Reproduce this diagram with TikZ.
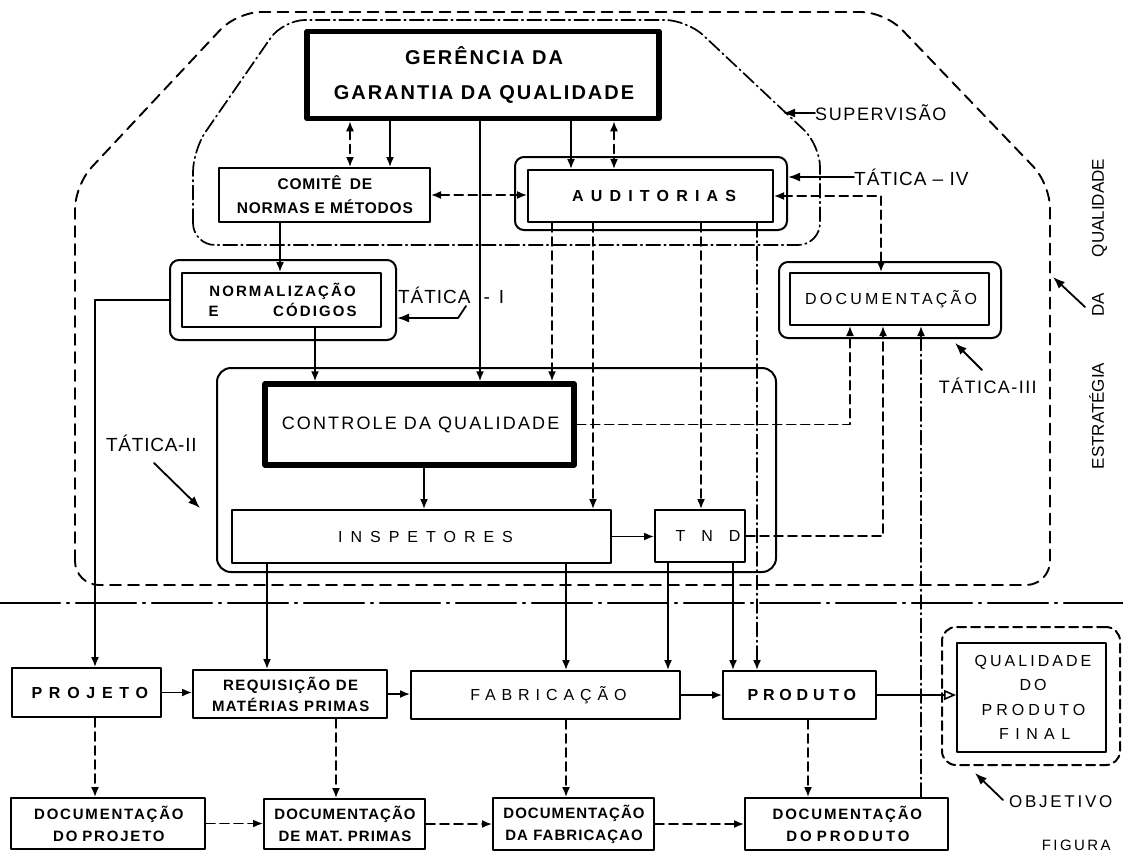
\documentclass[tikz,border=0pt]{standalone}
\usepackage{fontspec}
\setmainfont{Liberation Sans}
\usetikzlibrary{arrows.meta}

\newcommand{\fs}[2]{\fontsize{#1}{#2}\selectfont}
% tracked caps, trailing track removed
\newcommand{\trk}[2]{{\addfontfeature{LetterSpace=#1}#2\kern-\dimexpr #1em/100\relax}}

\begin{document}
\begin{tikzpicture}[x=1pt, y=-1pt, line cap=round, line join=round,
  box/.style={draw, line width=2pt, inner sep=0pt, align=center},
  heavybox/.style={box, line width=5.5pt},
  frame/.style={draw, line width=2pt, inner sep=0pt, rounded corners=9pt},
  flow/.style={line width=1.6pt, -{Latex[length=10pt,width=8pt]}},
  both/.style={line width=1.6pt, {Latex[length=10pt,width=8pt]}-{Latex[length=10pt,width=8pt]}},
  tipline/.style={line width=1.8pt, -{Latex[length=12pt,width=9pt]}},
  dsh/.style={dash pattern=on 9pt off 5pt},
  dshdot/.style={dash pattern=on 14pt off 4pt on 1.5pt off 4pt},
  lbl/.style={inner sep=0pt}]
  \useasboundingbox (0,0) rectangle (1123,854);

  % strategy boundary and supervision boundary
  \draw[line width=1.9pt, dash pattern=on 11pt off 7pt, rounded corners=24pt]
    (75,585) -- (75,185) -- (237,12) -- (885,12) -- (1050,184) -- (1050,585) -- cycle;
  \draw[line width=1.7pt, dshdot, rounded corners=22pt]
    (193,245) -- (193,150) -- (283,20) -- (687,20) -- (820,145) -- (820,245) -- cycle;
  % separator
  \draw[line width=2.4pt, dash pattern=on 60pt off 7pt on 2pt off 7pt] (0,603) -- (1123,603);

  % frames
  \node[frame, minimum width=272pt, minimum height=73pt] (audframe) at (651,193.5) {};
  \node[frame, minimum width=226pt, minimum height=80pt] (normframe) at (283,300) {};
  \node[frame, minimum width=222pt, minimum height=76pt] (docframe) at (890,300) {};
  \node[frame, rounded corners=14pt, minimum width=559pt, minimum height=204pt] (tatframe) at (496.5,470) {};
  \node[frame, dsh, rounded corners=14pt, minimum width=178pt, minimum height=138pt] (qualframe) at (1031,696) {};

  % boxes
  \node[heavybox, minimum width=352pt, minimum height=87pt, font=\fs{20}{35}\bfseries] (ger) at (483,75)
    {\trk{10}{GERÊNCIA DA}\\\trk{10}{GARANTIA DA QUALIDADE}};
  \node[box, minimum width=211pt, minimum height=54pt, font=\fs{15.5}{24}\bfseries] (comite) at (324.5,195)
    {\trk{5}{COMITÊ\hspace{8pt}DE}\\\trk{5}{NORMAS E MÉTODOS}};
  \node[box, minimum width=245pt, minimum height=52pt, font=\fs{16}{19}\bfseries] (aud) at (650.5,196) {\trk{45}{AUDITORIAS}};
  \node[box, minimum width=199pt, minimum height=54pt, font=\fs{15}{20}\bfseries] (normal) at (281.5,300)
    {\trk{14}{NORMALIZAÇÃO}\\\makebox[146pt]{E\hfill\trk{14}{CÓDIGOS}}};
  \node[box, minimum width=199pt, minimum height=52pt, font=\fs{16}{19}] (doc) at (889.5,299) {\trk{20}{DOCUMENTAÇÃO}};
  \node[heavybox, minimum width=309pt, minimum height=81pt, font=\fs{18}{21}] (ctrl) at (419.5,424.5)
    {\trk{12}{CONTROLE\hspace{7pt}DA\hspace{7pt}QUALIDADE}};
  \node[box, minimum width=379pt, minimum height=53pt, font=\fs{16}{19}] (insp) at (421.5,536.5) {\trk{50}{INSPETORES}};
  \node[box, minimum width=90pt, minimum height=52pt, font=\fs{16}{19}] (tnd) at (700,536) {\trk{100}{TND}};

  \node[box, minimum width=149pt, minimum height=49pt, font=\fs{16}{19}\bfseries] (projeto) at (86.5,692.5) {\trk{42}{PROJETO}};
  \node[box, minimum width=194pt, minimum height=48pt, font=\fs{15}{21}\bfseries] (req) at (290,694)
    {\trk{9}{REQUISIÇÃO DE}\\\trk{9}{MATÉRIAS PRIMAS}};
  \node[box, minimum width=269pt, minimum height=48pt, font=\fs{16}{19}] (fab) at (545.5,695) {\trk{37}{FABRICAÇÃO}};
  \node[box, minimum width=153pt, minimum height=48pt, font=\fs{16}{19}\bfseries] (prod) at (799.5,695) {\trk{30}{PRODUTO}};
  \node[box, minimum width=149pt, minimum height=109pt, font=\fs{16}{24.5}] (qual) at (1031.5,697.5)
    {\trk{19}{QUALIDADE}\\\trk{19}{DO}\\\trk{25}{PRODUTO}\\\trk{40}{FINAL}};

  \node[box, minimum width=194pt, minimum height=51pt, font=\fs{15}{22}\bfseries] (docproj) at (108,823.5)
    {\trk{12}{DOCUMENTAÇÃO}\\\trk{12}{DO\hspace{5pt}PROJETO}};
  \node[box, minimum width=161pt, minimum height=50pt, font=\fs{15}{22}\bfseries] (docmat) at (344.5,824)
    {\trk{7}{DOCUMENTAÇÃO}\\\trk{7}{DE MAT. PRIMAS}};
  \node[box, minimum width=161pt, minimum height=52pt, font=\fs{15}{22}\bfseries] (docfab) at (573.5,824)
    {\trk{7}{DOCUMENTAÇÃO}\\\trk{7}{DA FABRICAÇAO}};
  \node[box, minimum width=203pt, minimum height=52pt, font=\fs{15}{22}\bfseries] (docprod) at (846.5,824)
    {\trk{12}{DOCUMENTAÇÃO}\\\trk{20}{DO\hspace{5pt}PRODUTO}};

  % labels
  \node[lbl, anchor=west, font=\fs{18}{20}] (superv) at (815,113) {\trk{9}{SUPERVISÃO}};
  \node[lbl, anchor=west, font=\fs{19}{21}] (tativ) at (854,177) {\trk{5}{TÁTICA – IV}};
  \node[lbl, anchor=west, font=\fs{19}{21}] (tati) at (398,295) {\trk{5}{TÁTICA}\hspace{14pt}-\hspace{9pt}I};
  \node[lbl, font=\fs{19}{21}] (tatii) at (151,443) {\trk{4}{TÁTICA-II}};
  \node[lbl, font=\fs{18}{21}] (tatiii) at (987,386) {\trk{8}{TÁTICA-III}};
  \node[lbl, rotate=90, font=\fs{17}{20}] (estrat) at (1098,314) {ESTRATÉGIA\hspace{46pt}DA\hspace{36pt}QUALIDADE};
  \node[lbl, anchor=west, font=\fs{17}{20}] (objetivo) at (1009,802) {\trk{16}{OBJETIVO}};
  \node[lbl, font=\fs{15}{18}] (figura) at (1075,845) {\trk{16}{FIGURA}};

  % columns of the vertical links
  \foreach \n/\x in {cA/350, cB/390, cC/480, cD/571, cE/614, cF/280, cG/315, cH/95,
                     cI/552, cJ/593, cK/701, cL/757, cM/881, cN/424, cO/850, cP/883,
                     cQ/921, cR/267, cS/566, cT/668, cU/733, cV/336, cX/808}
    \coordinate (\n) at (\x,0);

  % management links
  \draw[both, dsh] (ger.south -| cA) -- (comite.north -| cA);
  \draw[flow] (ger.south -| cB) -- (comite.north -| cB);
  \draw[flow] (ger.south -| cC) -- (ctrl.north -| cC);
  \draw[flow] (ger.south -| cD) -- (aud.north -| cD);
  \draw[both, dsh] (ger.south -| cE) -- (aud.north -| cE);
  \draw[both, dsh] (comite.east) -- (comite.east -| aud.west);
  \draw[flow] (comite.south -| cF) -- (normal.north -| cF);
  \draw[flow] (normal.south -| cG) -- (ctrl.north -| cG);
  \draw[flow] (normframe.west) -| (projeto.north -| cH);

  % audit links
  \draw[flow, dsh] (aud.south -| cI) -- (ctrl.north -| cI);
  \draw[flow, dsh] (aud.south -| cJ) -- (insp.north -| cJ);
  \draw[flow, dsh] (aud.south -| cK) -- (tnd.north -| cK);
  \draw[flow, dshdot] (aud.south -| cL) -- (prod.north -| cL);
  \draw[both, dsh] (aud.east) -| (doc.north -| cM);

  % control, inspection, documentation
  \draw[flow] (ctrl.south -| cN) -- (insp.north -| cN);
  \draw[flow, dsh] (ctrl.east) -| (doc.south -| cO);
  \draw[flow] (insp.east) -- (tnd.west |- insp.east);
  \draw[flow, dsh] (tnd.east) -| (doc.south -| cP);
  \draw[flow, dshdot] (docprod.north -| cQ) -- (doc.south -| cQ);

  % down to production
  \draw[flow] (insp.south -| cR) -- (req.north -| cR);
  \draw[flow] (insp.south -| cS) -- (fab.north -| cS);
  \draw[flow] (tnd.south -| cT) -- (fab.north -| cT);
  \draw[flow] (tnd.south -| cU) -- (prod.north -| cU);

  % production chain
  \draw[flow] (projeto.east) -- (req.west |- projeto.east);
  \draw[flow] (req.east) -- (fab.west |- req.east);
  \draw[flow] (fab.east) -- (prod.west |- fab.east);
  \draw[line width=1.6pt, -{Triangle[open,length=12pt,width=10pt]}] (prod.east) -- (qual.west |- prod.east);

  % documentation chain
  \draw[flow, dsh] (projeto.south -| cH) -- (docproj.north -| cH);
  \draw[flow, dsh] (req.south -| cV) -- (docmat.north -| cV);
  \draw[flow, dsh] (fab.south -| cS) -- (docfab.north -| cS);
  \draw[flow, dsh] (prod.south -| cX) -- (docprod.north -| cX);
  \draw[flow, dsh] (docproj.east) -- (docmat.west |- docproj.east);
  \draw[flow, dsh] (docmat.east) -- (docfab.west |- docmat.east);
  \draw[flow, dsh] (docfab.east) -- (docprod.west |- docfab.east);

  % pointers of the labels
  \coordinate (supTip) at (783,113);
  \coordinate (tiStart) at (466,306);
  \coordinate (tiBend) at (458,318);
  \coordinate (tiiStart) at (154,463);
  \coordinate (tiiTip) at (200,508);
  \coordinate (tiiiStart) at (982,370);
  \coordinate (tiiiTip) at (955,343);
  \coordinate (daStart) at (1085,307);
  \coordinate (daTip) at (1053,277);
  \coordinate (objStart) at (1003,800);
  \coordinate (objTip) at (975,773);
  \draw[tipline] (superv.west) -- (supTip);
  \draw[tipline] (tativ.west) -- (tativ.west -| audframe.east);
  \draw[tipline] (tiStart) -- (tiBend) -- (tiBend -| normframe.east);
  \draw[tipline] (tiiStart) -- (tiiTip);
  \draw[tipline] (tiiiStart) -- (tiiiTip);
  \draw[tipline] (daStart) -- (daTip);
  \draw[tipline] (objStart) -- (objTip);
\end{tikzpicture}
\end{document}
